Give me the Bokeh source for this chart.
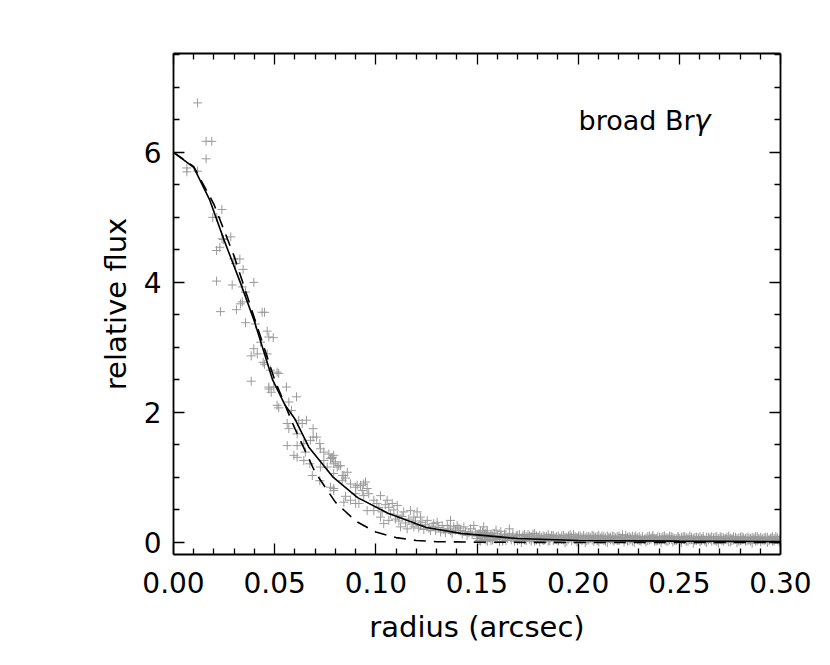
from bokeh.plotting import figure
from bokeh.models import (Range1d, LinearAxis, FixedTicker, PrintfTickFormatter,
                          CustomJSTickFormatter, Label)
from bokeh.embed import file_html
from bokeh.resources import INLINE

# ---- data ----
inner_x = [0.0066, 0.0066, 0.0119, 0.0119, 0.0161, 0.0189, 0.0161,
           0.0194, 0.0214, 0.0239, 0.0247, 0.0283, 0.0240,
           0.0213, 0.0229, 0.0298, 0.0328, 0.0306, 0.0344,
           0.0213, 0.0290, 0.0397, 0.0340, 0.0356, 0.0340, 0.0331,
           0.0232, 0.0311, 0.0438, 0.0450, 0.0356, 0.0405, 0.0463,
           0.0471, 0.0493, 0.0430, 0.0397, 0.0414, 0.0384, 0.0463,
           0.0443, 0.0450, 0.0479, 0.0512, 0.0520, 0.0384,
           0.0471, 0.0496, 0.0558,
           0.0483, 0.0471, 0.0608, 0.0512, 0.0520, 0.0570, 0.0583,
           0.0619, 0.0657, 0.0636, 0.0562, 0.0570, 0.0690, 0.0611,
           0.0690, 0.0707, 0.0677, 0.0562, 0.0611, 0.0644, 0.0723, 0.0726,
           0.0652, 0.0743, 0.0768, 0.0595, 0.0611, 0.0644, 0.0674,
           0.0743, 0.0784, 0.0800, 0.0726, 0.0760, 0.0809, 0.0826,
           0.0686, 0.0792, 0.0834, 0.0859, 0.0850, 0.0723, 0.0776, 0.0792,
           0.0875, 0.0900, 0.0924, 0.0949, 0.0957, 0.0850, 0.0900, 0.0940, 0.0965,
           0.0784, 0.0792, 0.0817, 0.0792, 0.0842, 0.0834, 0.0908, 0.0940, 0.0933,
           0.0842, 0.0875, 0.0900, 0.0916, 0.0957, 0.0990, 0.1015, 0.0990, 0.1023,
           0.1056, 0.1081, 0.1106, 0.1064, 0.1023, 0.1064, 0.1039,
           0.1106, 0.1138, 0.1171, 0.1204, 0.1188, 0.1220,
           0.1122, 0.1155, 0.1188, 0.1220,
           0.1254, 0.1286, 0.1303, 0.1328, 0.1353, 0.1369, 0.1385,
           0.1270, 0.1320, 0.1369, 0.1418, 0.1468, 0.1517, 0.1550,
           0.1402, 0.1435, 0.1484, 0.1533, 0.0776, 0.0792,
           0.1005, 0.1031, 0.1047, 0.1072, 0.1089, 0.1097, 0.1114, 0.1130, 0.1147, 0.1163,
           0.1179, 0.1196, 0.1212, 0.1228, 0.1237, 0.1245, 0.1262, 0.1278, 0.1295, 0.1311,
           0.1336, 0.1344, 0.1361, 0.1377, 0.1394, 0.1410, 0.1427, 0.1443, 0.1451, 0.1460,
           0.1476, 0.1492, 0.1500, 0.1509, 0.1525, 0.1541]
inner_y = [5.76, 5.70, 5.71, 6.76, 6.17, 6.17, 5.90,
           5.00, 5.00, 5.12, 4.66, 4.70, 4.67,
           4.49, 4.54, 4.36, 4.36, 4.29, 4.20,
           4.02, 3.96, 4.00, 3.93, 3.85, 3.70, 3.67,
           3.55, 3.58, 3.54, 3.54, 3.38, 3.36, 3.25,
           3.16, 3.15, 3.08, 2.98, 2.90, 2.87, 2.90,
           2.77, 2.74, 2.65, 2.62, 2.60, 2.48,
           2.39, 2.39, 2.39,
           2.31, 2.36, 2.24, 2.11, 2.07, 2.16, 2.03,
           1.88, 1.88, 1.83, 1.83, 1.75, 1.75, 1.67,
           1.62, 1.62, 1.57, 1.49, 1.49, 1.52, 1.52, 1.44,
           1.39, 1.39, 1.36, 1.34, 1.31, 1.26, 1.21,
           1.26, 1.30, 1.24, 1.16, 1.16, 1.16, 1.18,
           1.03, 1.06, 1.03, 1.08, 0.99, 0.95, 0.85, 0.83,
           0.90, 0.85, 0.88, 0.93, 0.83, 0.71, 0.75, 0.72, 0.75,
           1.31, 1.21, 1.18, 0.80, 1.03, 0.95, 0.88, 0.90, 0.80,
           0.62, 0.65, 0.60, 0.60, 0.49, 0.49, 0.54, 0.65, 0.72,
           0.65, 0.60, 0.57, 0.54, 0.39, 0.34, 0.29,
           0.42, 0.47, 0.49, 0.47, 0.39, 0.39,
           0.24, 0.21, 0.24, 0.26,
           0.34, 0.29, 0.31, 0.26, 0.26, 0.34, 0.24,
           0.18, 0.16, 0.18, 0.18, 0.21, 0.18, 0.18,
           0.26, 0.24, 0.26, 0.24, 1.29, 1.34,
           0.60, 0.47, 0.58, 0.44, 0.50, 0.36, 0.33, 0.40, 0.30, 0.36,
           0.28, 0.33, 0.22, 0.31, 0.20, 0.27, 0.22, 0.25, 0.19, 0.23,
           0.20, 0.15, 0.21, 0.14, 0.19, 0.22, 0.13, 0.17, 0.11, 0.15,
           0.12, 0.16, 0.10, 0.13, 0.09, 0.14]

tail_x = [0.1502, 0.1511, 0.1518, 0.1527, 0.1536, 0.1544, 0.1551, 0.1560, 0.1569, 0.1577,
          0.1585, 0.1594, 0.1602, 0.1611, 0.1618, 0.1627, 0.1636, 0.1643, 0.1652, 0.1660,
          0.1669, 0.1677, 0.1685, 0.1694, 0.1701, 0.1710, 0.1719, 0.1727, 0.1735, 0.1743,
          0.1752, 0.1760, 0.1768, 0.1777, 0.1785, 0.1794, 0.1802, 0.1810, 0.1818, 0.1827,
          0.1835, 0.1844, 0.1852, 0.1860, 0.1869, 0.1877, 0.1885, 0.1893, 0.1902, 0.1910,
          0.1919, 0.1927, 0.1935, 0.1944, 0.1952, 0.1960, 0.1968, 0.1977, 0.1985, 0.1994,
          0.2002, 0.2010, 0.2019, 0.2027, 0.2035, 0.2043, 0.2052, 0.2060, 0.2069, 0.2077,
          0.2085, 0.2094, 0.2102, 0.2110, 0.2118, 0.2127, 0.2135, 0.2144, 0.2152, 0.2160,
          0.2169, 0.2177, 0.2185, 0.2193, 0.2202, 0.2210, 0.2219, 0.2227, 0.2235, 0.2244,
          0.2252, 0.2260, 0.2268, 0.2277, 0.2285, 0.2294, 0.2302, 0.2310, 0.2318, 0.2327,
          0.2335, 0.2344, 0.2352, 0.2360, 0.2369, 0.2377, 0.2385, 0.2393, 0.2402, 0.2410,
          0.2419, 0.2427, 0.2435, 0.2444, 0.2452, 0.2460, 0.2468, 0.2477, 0.2485, 0.2494,
          0.2502, 0.2510, 0.2519, 0.2527, 0.2535, 0.2543, 0.2552, 0.2560, 0.2569, 0.2577,
          0.2585, 0.2594, 0.2602, 0.2610, 0.2618, 0.2627, 0.2635, 0.2644, 0.2652, 0.2660,
          0.2669, 0.2677, 0.2685, 0.2693, 0.2702, 0.2710, 0.2719, 0.2727, 0.2735, 0.2744,
          0.2752, 0.2760, 0.2768, 0.2777, 0.2785, 0.2794, 0.2802, 0.2810, 0.2818, 0.2827,
          0.2835, 0.2844, 0.2852, 0.2860, 0.2869, 0.2877, 0.2885, 0.2893, 0.2902, 0.2910,
          0.2919, 0.2927, 0.2935, 0.2944, 0.2952, 0.2960, 0.2968, 0.2977, 0.2985, 0.2994]
tail_y = [0.11, 0.03, 0.08, 0.16, 0.05, 0.10, 0.02, 0.07, 0.12, 0.04,
          0.09, 0.19, 0.06, 0.01, 0.10, 0.05, 0.13, 0.03, 0.08, 0.21,
          0.04, 0.09, 0.02, 0.07, 0.11, 0.05, 0.00, 0.08, 0.12, 0.03,
          0.07, 0.10, 0.02, 0.06, 0.14, 0.04, 0.08, 0.01, 0.06, 0.10,
          0.04, 0.09, 0.02, 0.07, 0.11, 0.03, 0.05, 0.09, 0.02, 0.07,
          0.10, 0.04, 0.00, 0.08, 0.05, 0.12, 0.03, 0.06, 0.09, 0.01,
          0.07, 0.10, 0.03, 0.06, 0.00, 0.09, 0.04, 0.08, 0.11, 0.02,
          0.06, 0.09, 0.01, 0.05, 0.10, 0.03, 0.07, 0.00, 0.08, 0.04,
          0.10, 0.02, 0.06, 0.09, 0.03, 0.07, 0.12, 0.01, 0.05, 0.08,
          0.03, 0.07, 0.10, 0.00, 0.06, 0.04, 0.09, 0.02, 0.08, 0.05,
          0.01, 0.09, 0.04, 0.07, 0.11, 0.02, 0.06, 0.03, 0.08, 0.00,
          0.05, 0.10, 0.02, 0.07, 0.04, 0.09, 0.01, 0.06, 0.03, 0.08,
          0.06, 0.00, 0.09, 0.04, 0.07, 0.02, 0.10, 0.05, -0.01, 0.08,
          0.03, 0.07, 0.01, 0.06, 0.09, 0.04, 0.00, 0.08, 0.05, 0.02,
          0.07, 0.03, 0.09, -0.01, 0.05, 0.08, 0.02, 0.06, 0.04, 0.10,
          0.01, 0.06, 0.04, 0.08, 0.00, 0.07, 0.03, 0.09, 0.05, 0.02,
          0.08, 0.04, 0.06, -0.01, 0.07, 0.02, 0.09, 0.05, 0.01, 0.06,
          0.03, 0.08, 0.00, 0.05, 0.07, 0.02, 0.06, 0.09, 0.04, 0.01]
tail2_y = [0.06, 0.13, 0.02, 0.09, 0.12, 0.04, 0.15, 0.08, 0.03, 0.10,
           0.14, 0.05, 0.11, 0.08, 0.17, 0.02, 0.09, 0.12, 0.06, 0.10,
           0.08, 0.13, 0.05, 0.10, 0.03, 0.12, 0.07, 0.11, 0.04, 0.09,
           0.12, 0.05, 0.09, 0.13, 0.02, 0.10, 0.06, 0.11, 0.08, 0.03,
           0.09, 0.06, 0.12, 0.03, 0.08, 0.11, 0.07, 0.04, 0.10, 0.06,
           0.05, 0.11, 0.08, 0.02, 0.10, 0.07, 0.09, 0.12, 0.04, 0.08,
           0.10, 0.05, 0.08, 0.11, 0.07, 0.03, 0.09, 0.06, 0.04, 0.10,
           0.08, 0.03, 0.11, 0.07, 0.05, 0.09, 0.02, 0.10, 0.06, 0.08,
           0.04, 0.09, 0.07, 0.03, 0.10, 0.06, 0.08, 0.05, 0.11, 0.02,
           0.09, 0.05, 0.02, 0.08, 0.10, 0.07, 0.03, 0.06, 0.09, 0.04,
           0.07, 0.03, 0.10, 0.05, 0.08, 0.06, 0.02, 0.09, 0.04, 0.07,
           0.09, 0.04, 0.07, 0.02, 0.10, 0.05, 0.08, 0.03, 0.06, 0.09,
           0.03, 0.08, 0.05, 0.09, 0.02, 0.07, 0.04, 0.08, 0.06, 0.03,
           0.08, 0.05, 0.09, 0.03, 0.06, 0.02, 0.08, 0.04, 0.07, 0.09,
           0.04, 0.08, 0.02, 0.06, 0.09, 0.03, 0.07, 0.05, 0.08, 0.01,
           0.07, 0.03, 0.09, 0.05, 0.06, 0.02, 0.08, 0.04, 0.07, 0.06,
           0.03, 0.07, 0.02, 0.08, 0.05, 0.09, 0.03, 0.06, 0.08, 0.04,
           0.07, 0.04, 0.08, 0.03, 0.06, 0.09, 0.02, 0.05, 0.07, 0.05]

model_x = [0.0, 0.010, 0.018, 0.025, 0.033, 0.040, 0.049, 0.055, 0.060, 0.067,
           0.079, 0.091, 0.106, 0.125, 0.142, 0.170, 0.200, 0.250, 0.300]
model_y = [6.00, 5.77, 5.26, 4.65, 4.00, 3.40, 2.50, 2.12, 1.90, 1.46,
           1.00, 0.69, 0.45, 0.23, 0.14, 0.06, 0.03, 0.02, 0.015]

psf_x = [0.0, 0.010, 0.020, 0.030, 0.040, 0.050, 0.060, 0.070, 0.080, 0.090,
         0.100, 0.110, 0.120, 0.130, 0.150, 0.200, 0.250, 0.300]
psf_y = [6.00, 5.78, 5.20, 4.40, 3.45, 2.50, 1.75, 1.08, 0.62, 0.33,
         0.16, 0.075, 0.03, 0.012, 0.004, 0.0, 0.0, 0.0]

x_major_ticks = [0.0, 0.05, 0.10, 0.15, 0.20, 0.25, 0.30]
x_minor_ticks = [0.01, 0.02, 0.03, 0.04, 0.06, 0.07, 0.08, 0.09,
                 0.11, 0.12, 0.13, 0.14, 0.16, 0.17, 0.18, 0.19,
                 0.21, 0.22, 0.23, 0.24, 0.26, 0.27, 0.28, 0.29]
y_major_ticks = [0, 2, 4, 6]
y_minor_ticks = [0.5, 1.0, 1.5, 2.5, 3.0, 3.5, 4.5, 5.0, 5.5, 6.5, 7.0, 7.5]

FONT = "DejaVu Sans"
GREY = "#9a9a9a"

p = figure(width=823, height=658, output_backend="svg", toolbar_location=None,
           x_range=Range1d(0, 0.30), y_range=Range1d(-0.185, 7.52),
           min_border_left=173, min_border_right=43, min_border_top=53,
           min_border_bottom=104)
p.xgrid.visible = False
p.ygrid.visible = False
p.outline_line_color = None
p.background_fill_color = "white"
p.border_fill_color = "white"

p.scatter(inner_x, inner_y, marker="cross", size=9, line_color=GREY, line_width=1)
p.scatter(tail_x, tail_y, marker="cross", size=9, line_color=GREY, line_width=1)
p.scatter(tail_x, tail2_y, marker="cross", size=9, line_color=GREY, line_width=1)
p.line(model_x, model_y, line_color="black", line_width=1.6)
p.line(psf_x, psf_y, line_color="black", line_width=1.6, line_dash="12 8")


def style(ax, ticks, minor, show_labels):
    ax.ticker = FixedTicker(ticks=ticks, minor_ticks=minor)
    ax.axis_line_color = "black"
    ax.axis_line_width = 1.8
    ax.major_tick_line_color = "black"
    ax.minor_tick_line_color = "black"
    ax.major_tick_line_width = 1.3
    ax.minor_tick_line_width = 1.3
    ax.major_tick_in = 11
    ax.major_tick_out = 0
    ax.minor_tick_in = 6
    ax.minor_tick_out = 0
    ax.major_label_text_font = FONT
    ax.major_label_text_color = "black"
    ax.axis_label_text_font = FONT
    ax.axis_label_text_font_style = "normal"
    ax.axis_label_text_color = "black"
    ax.major_label_text_font_size = "28px"
    ax.axis_label_text_font_size = "29px"
    if not show_labels:
        ax.formatter = CustomJSTickFormatter(code="return '';")
        ax.major_label_standoff = 0


xa = p.xaxis[0]
style(xa, x_major_ticks, x_minor_ticks, True)
xa.formatter = PrintfTickFormatter(format="%.2f")
xa.axis_label = "radius (arcsec)"
xa.major_label_standoff = 17
xa.axis_label_standoff = 14

ya = p.yaxis[0]
style(ya, y_major_ticks, y_minor_ticks, True)
ya.axis_label = "relative flux"
ya.major_label_standoff = 12
ya.axis_label_standoff = 8

top = LinearAxis()
style(top, x_major_ticks, x_minor_ticks, False)
p.add_layout(top, "above")
right = LinearAxis()
style(right, y_major_ticks, y_minor_ticks, False)
p.add_layout(right, "right")

p.add_layout(Label(x=0.2002, y=6.49, text="broad Br", text_font=FONT,
                   text_font_size="27px", text_color="black",
                   text_baseline="alphabetic"))
p.add_layout(Label(x=0.2572, y=6.49, text="γ", text_font=FONT,
                   text_font_size="28px", text_font_style="italic",
                   text_color="black", text_baseline="alphabetic"))

open("out.html", "w").write(file_html(p, INLINE))
